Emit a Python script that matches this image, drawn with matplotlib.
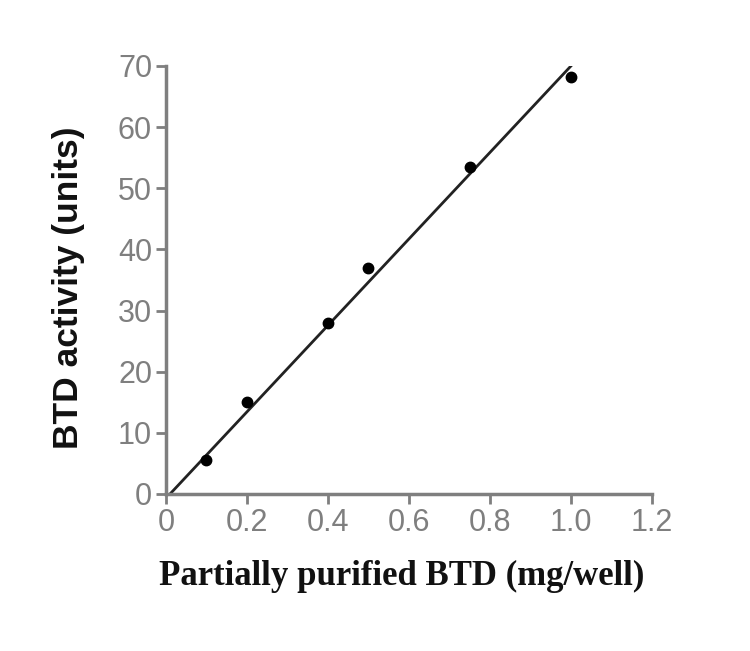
import numpy as np
import matplotlib.pyplot as plt

# measured points
x_mg = [0.1, 0.2, 0.4, 0.5, 0.75, 1.0]
y_units = [5.5, 15.0, 28.0, 37.0, 53.5, 68.2]

# fitted line as drawn in the figure (end points)
fit_x = [0.01, 1.0]
fit_y = [0.0, 70.0]

x_ticks = [0, 0.2, 0.4, 0.6, 0.8, 1.0, 1.2]
x_tick_labels = ['0', '0.2', '0.4', '0.6', '0.8', '1.0', '1.2']
y_ticks = [0, 10, 20, 30, 40, 50, 60, 70]

grey = '#7f7f7f'

fig = plt.figure(figsize=(7.5, 6.51), dpi=100)
ax = fig.add_axes([0.2213, 0.2412, 0.648, 0.6575])

ax.plot(fit_x, fit_y, color='#222222', lw=2.0, zorder=2)
ax.plot(x_mg, y_units, 'o', color='black', ms=7.5, zorder=3)

ax.set_xlim(0, 1.2)
ax.set_ylim(0, 70)
ax.set_xticks(x_ticks)
ax.set_xticklabels(x_tick_labels)
ax.set_yticks(y_ticks)

for s in ['top', 'right']:
    ax.spines[s].set_visible(False)
for s in ['left', 'bottom']:
    ax.spines[s].set_color(grey)
    ax.spines[s].set_linewidth(2.5)

ax.tick_params(direction='out', length=7, width=2, colors=grey,
               labelsize=22, pad=3)
for lab in ax.get_xticklabels() + ax.get_yticklabels():
    lab.set_fontfamily('Liberation Sans')
    lab.set_color(grey)

fig.text(0.536, 0.114, 'Partially purified BTD (mg/well)', ha='center', va='center',
         fontsize=25, fontweight='bold', family='Liberation Serif', color='#111111')
fig.text(0.0907, 0.558, 'BTD activity (units)', ha='center', va='center', rotation=90,
         fontsize=25.5, fontweight='bold', family='Liberation Sans', color='#111111')

fig.savefig('out.png', dpi=100)
